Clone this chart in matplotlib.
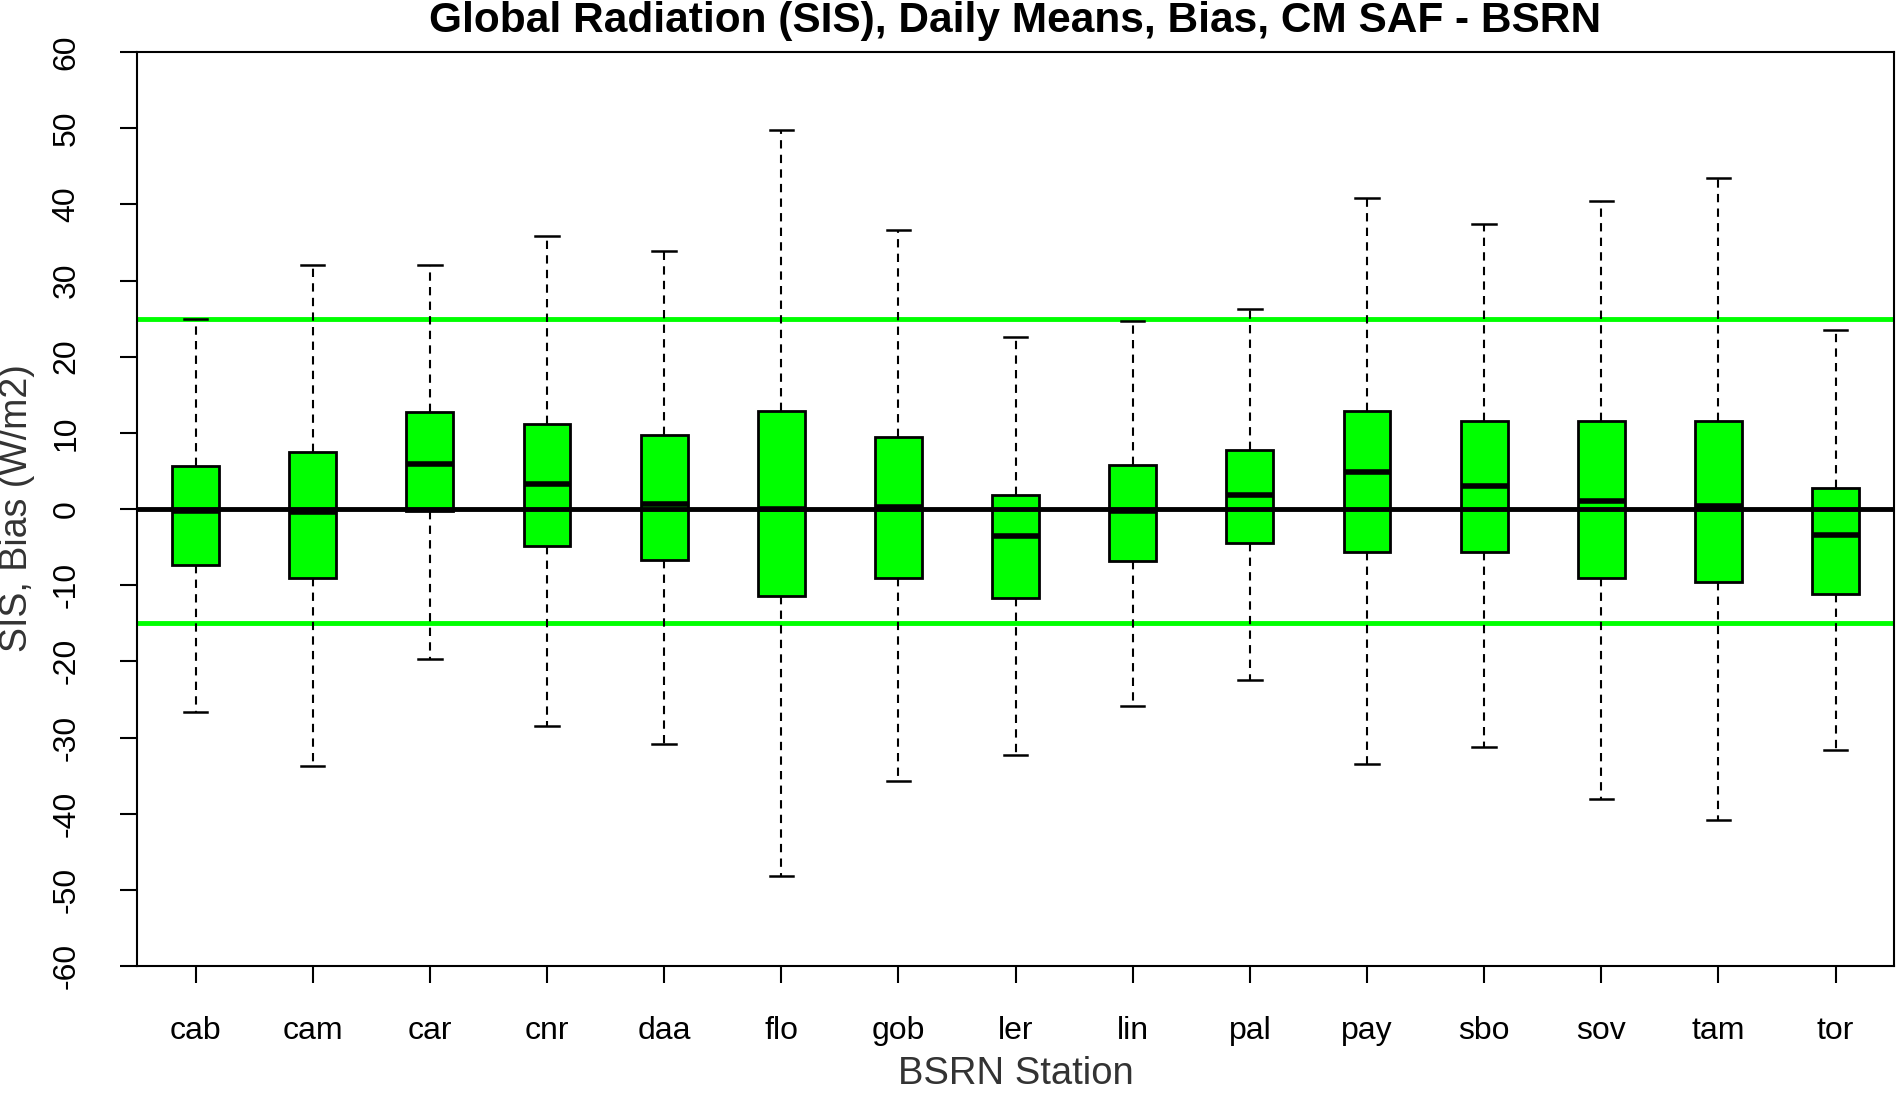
import matplotlib
matplotlib.use("Agg")
import matplotlib.pyplot as plt

# station names and box statistics (W/m2)
stations = ["cab", "cam", "car", "cnr", "daa", "flo", "gob", "ler",
            "lin", "pal", "pay", "sbo", "sov", "tam", "tor"]
whis_hi = [25.0, 32.1, 32.1, 35.8, 33.9, 49.8, 36.6, 22.6,
           24.7, 26.3, 40.8, 37.4, 40.5, 43.5, 23.5]
q3 = [5.7, 7.5, 12.7, 11.2, 9.7, 12.9, 9.5, 1.9,
      5.8, 7.7, 12.9, 11.6, 11.6, 11.6, 2.8]
medians = [-0.2, -0.4, 5.9, 3.3, 0.6, 0.0, 0.2, -3.6,
           -0.25, 1.8, 4.8, 3.0, 1.1, 0.4, -3.4]
q1 = [-7.3, -9.1, -0.3, -4.9, -6.7, -11.4, -9.0, -11.7,
      -6.8, -4.5, -5.7, -5.7, -9.0, -9.6, -11.1]
whis_lo = [-26.7, -33.7, -19.7, -28.5, -30.9, -48.2, -35.7, -32.3,
           -25.9, -22.4, -33.5, -31.2, -38.1, -40.8, -31.7]

# reference lines: zero bias and the +/- limits
zero_line = 0
limit_hi = 25
limit_lo = -15

plt.rcParams['font.family'] = ['Liberation Sans', 'DejaVu Sans']

fig = plt.figure(figsize=(18.98, 10.93), dpi=100)
ax = fig.add_axes([0.0722, 0.1162, 0.9258, 0.8362])

stats = []
for i, name in enumerate(stations):
    stats.append({"label": name, "med": medians[i], "q1": q1[i], "q3": q3[i],
                  "whislo": whis_lo[i], "whishi": whis_hi[i], "fliers": []})

ax.axhline(limit_hi, color="#00ff00", lw=3.5, zorder=1)
ax.axhline(limit_lo, color="#00ff00", lw=3.5, zorder=1)

pos = list(range(1, len(stations) + 1))
ax.bxp(stats, positions=pos, widths=0.4, patch_artist=True, showfliers=False,
       boxprops=dict(facecolor="#00ff00", edgecolor="black", linewidth=2),
       medianprops=dict(color="black", linewidth=4),
       whiskerprops=dict(color="black", linewidth=1.5, linestyle=(0, (4, 3))),
       capprops=dict(color="black", linewidth=1.8),
       capwidths=0.2, zorder=2)

ax.axhline(zero_line, color="black", lw=3.5, zorder=3)

ax.set_xlim(0.5, len(stations) + 0.5)
ax.set_ylim(-60, 60)
ax.set_yticks(range(-60, 61, 10))
ax.set_yticklabels([str(v) for v in range(-60, 61, 10)], rotation=90, va="center")
ax.set_xticks(pos)
ax.set_xticklabels(stations)
ax.tick_params(axis="both", direction="out", length=12, width=1.5,
               labelsize=23, colors="black")
ax.tick_params(axis="x", pad=24)
ax.tick_params(axis="y", pad=28)
for s in ax.spines.values():
    s.set_linewidth(1.5)

fig.text(0.535, 0.981, "Global Radiation (SIS), Daily Means, Bias, CM SAF - BSRN",
         ha="center", va="center", fontsize=30.5, fontweight="bold")
fig.text(0.009, 0.535, "SIS, Bias (W/m2)", rotation=90, ha="center", va="center",
         fontsize=27, color="#333333")
fig.text(0.535, 0.0175, "BSRN Station", ha="center", va="center",
         fontsize=27.5, color="#333333")

fig.savefig("out.png", dpi=100)
